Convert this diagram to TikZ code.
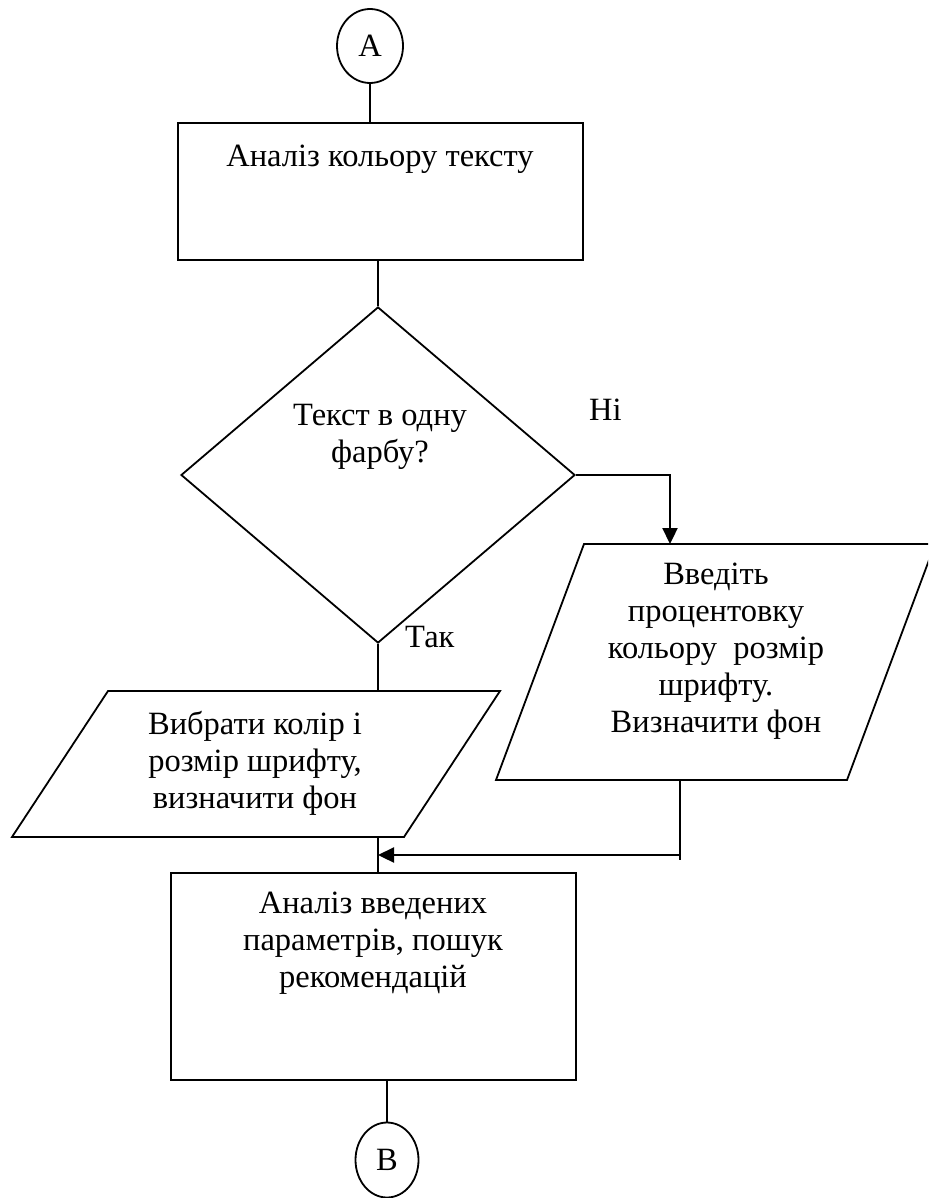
\documentclass[tikz,border=0pt]{standalone}
\usepackage{fontspec}
\setmainfont{Liberation Serif}
\usetikzlibrary{shapes.geometric,arrows.meta}
\tikzset{
  shp/.style={draw=black, line width=1.8pt, fill=white},
  conn/.style={draw=black, line width=1.6pt},
  arr/.style={draw=black, line width=2.3pt, -{Triangle[length=16pt,width=15pt]}},
  txt/.style={inner sep=0pt, align=center, font=\fontsize{32.5}{37}\selectfont},
  conn node/.style={shp, ellipse, inner sep=0pt, font=\fontsize{32.5}{37}\selectfont},
  boxnode/.style={shp, rectangle, inner sep=0pt}
}
\begin{document}
\begin{tikzpicture}[x=1pt,y=-1pt]
\clip (0,0) rectangle (928,1198);
\fill[white] (0,0) rectangle (928,1198);

% connector A
\node[conn node, minimum width=66pt, minimum height=74pt] (A) at (370,46) {A};
% box 1
\node[boxnode, minimum width=405pt, minimum height=137pt] (r1) at (380.5,191.5) {};
\node[txt, anchor=base] (r1t) at (380,167) {Аналіз кольору тексту};
% decision
\node[shp, diamond, inner sep=0pt, minimum width=394pt, minimum height=336pt] (d) at (378,475) {};
\node[txt] (dt) at (380,437) {Текст в одну\\фарбу?};
\node[txt, anchor=base west] (no) at (589,420) {Ні};
\node[txt, anchor=base west] (yes) at (405,647) {Так};
% left parallelogram
\coordinate (lp1) at (108,691);
\coordinate (lp2) at (500,691);
\coordinate (lp3) at (404,837);
\coordinate (lp4) at (12,837);
\draw[shp] (lp1) -- (lp2) -- (lp3) -- (lp4) -- cycle;
\coordinate (lptop) at (378,691);
\coordinate (lpbot) at (378,837);
\node[txt] (lpt) at (255,763) {Вибрати колір і\\розмір шрифту,\\визначити фон};
% right parallelogram
\coordinate (rp1) at (584,544);
\coordinate (rp2) at (935,544);
\coordinate (rp3) at (847,780);
\coordinate (rp4) at (496,780);
\draw[shp] (rp1) -- (rp2) -- (rp3) -- (rp4) -- cycle;
\coordinate (rptop) at (670,544);
\coordinate (rpbot) at (680,780);
\coordinate (rpend) at (680,860);
\coordinate (rpjoin) at (680,855);
\node[txt] (rpt) at (716,651) {Введіть\\процентовку\\кольору\ \ розмір\\шрифту.\\Визначити фон};
% box 2
\node[boxnode, minimum width=405pt, minimum height=207pt] (r2) at (373.5,976.5) {};
\node[txt] (r2t) at (373,943) {Аналіз введених\\параметрів, пошук\\рекомендацій};
% connector B
\node[conn node, minimum width=63pt, minimum height=75pt] (B) at (387,1160) {B};
\coordinate (mjoin) at (378,855);

% connectors
\draw[conn] (A.south) -- (A.south |- r1.north);
\draw[conn] (d.north) -- (d.north |- r1.south);
\draw[conn] (d.south) -- (lptop);
\draw[arr] (d.east) -| (rptop);
\draw[conn] (lpbot) -- (lpbot |- r2.north);
\draw[conn] (rpbot) -- (rpend);
\draw[arr] (rpjoin) -- (mjoin);
\draw[conn] (B.north) -- (B.north |- r2.south);
\end{tikzpicture}
\end{document}
